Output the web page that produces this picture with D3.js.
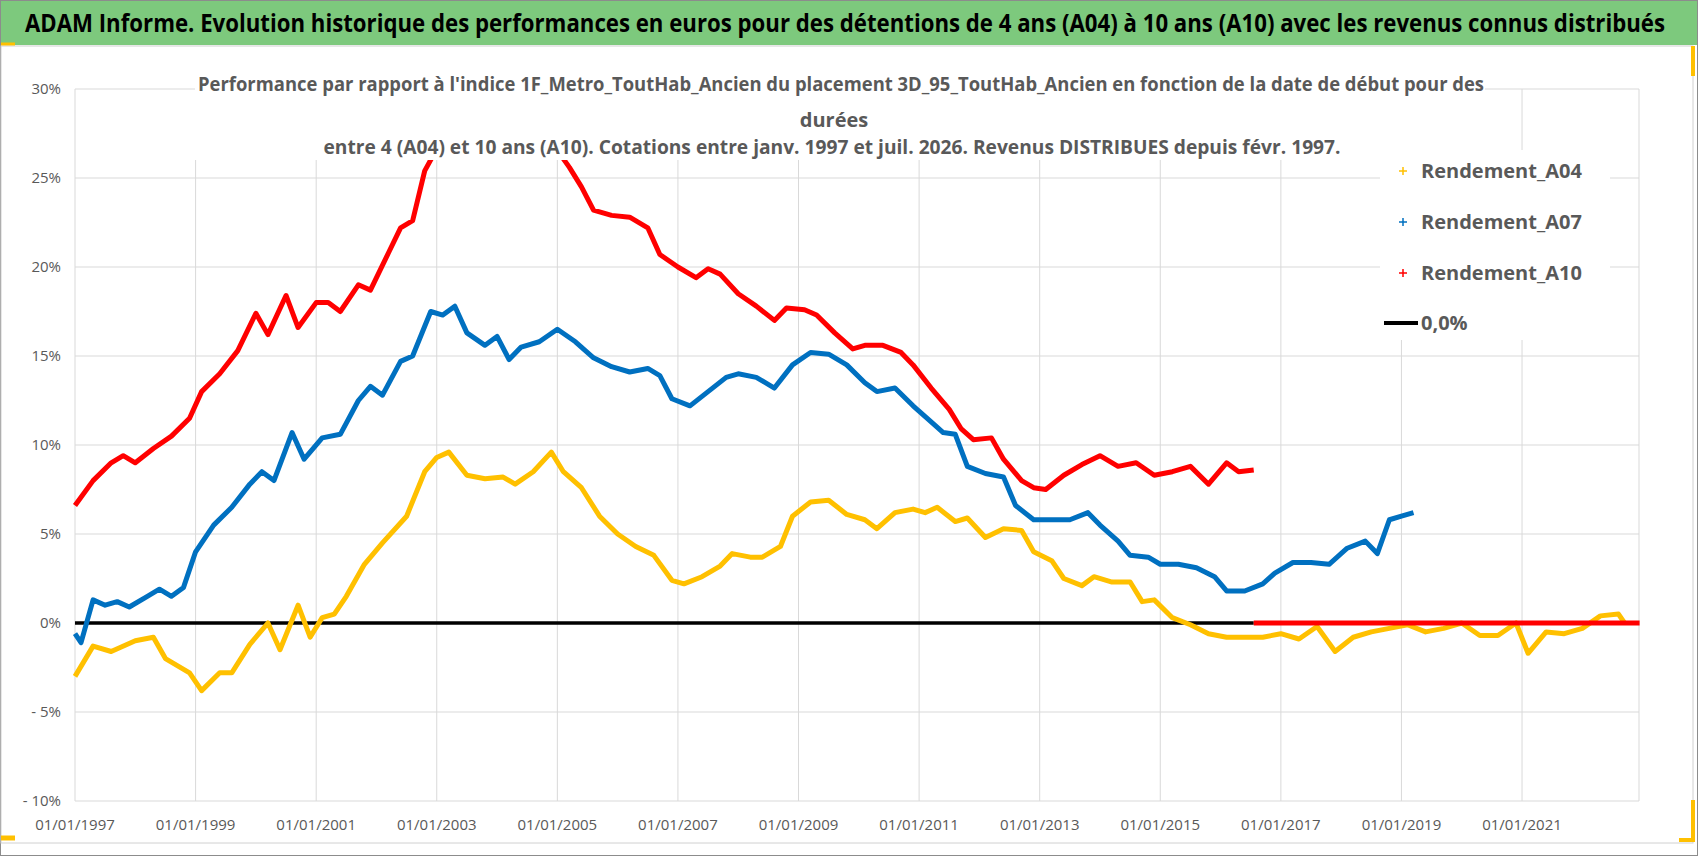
<!DOCTYPE html>
<html><head><meta charset="utf-8">
<script src="https://cdn.jsdelivr.net/npm/d3@7/dist/d3.min.js"></script>
<style>body{margin:0;background:#fff}svg{display:block}text{font-family:"Liberation Sans Narrow","Open Sans",sans-serif}</style>
</head><body><svg id="c" width="1698" height="856"></svg>
<script>
const titleText = "ADAM Informe. Evolution historique des performances en euros pour des détentions de 4 ans (A04) à 10 ans (A10) avec les revenus connus distribués";
const subtitleLines = ["Performance par rapport à l'indice 1F_Metro_ToutHab_Ancien  du placement 3D_95_ToutHab_Ancien en fonction de la date de début pour des", "durées", "entre 4 (A04) et 10 ans (A10). Cotations entre janv. 1997 et juil. 2026. Revenus DISTRIBUES depuis févr. 1997."];
const xTicks = [1997,1999,2001,2003,2005,2007,2009,2011,2013,2015,2017,2019,2021];
const yTicks = [-10,-5,0,5,10,15,20,25,30];
const seriesNames = ["Rendement_A04","Rendement_A07","Rendement_A10"];
const seriesColors = ["#FFC000","#0070C0","#FF0000"];
const a04 = [[1997.0,-3.0],[1997.3,-1.3],[1997.6,-1.6],[1998.0,-1.0],[1998.3,-0.8],[1998.5,-2.0],[1998.9,-2.8],[1999.1,-3.8],[1999.4,-2.8],[1999.6,-2.8],[1999.9,-1.2],[2000.2,0],[2000.4,-1.5],[2000.7,1.0],[2000.9,-0.8],[2001.1,0.3],[2001.3,0.5],[2001.5,1.5],[2001.8,3.3],[2002.1,4.5],[2002.5,6.0],[2002.8,8.5],[2003.0,9.3],[2003.2,9.6],[2003.5,8.3],[2003.8,8.1],[2004.1,8.2],[2004.3,7.8],[2004.6,8.5],[2004.9,9.6],[2005.1,8.5],[2005.4,7.6],[2005.7,6.0],[2006.0,5.0],[2006.3,4.3],[2006.6,3.8],[2006.9,2.4],[2007.1,2.2],[2007.4,2.6],[2007.7,3.2],[2007.9,3.9],[2008.2,3.7],[2008.4,3.7],[2008.7,4.3],[2008.9,6.0],[2009.2,6.8],[2009.5,6.9],[2009.8,6.1],[2010.1,5.8],[2010.3,5.3],[2010.6,6.2],[2010.9,6.4],[2011.1,6.2],[2011.3,6.5],[2011.6,5.7],[2011.8,5.9],[2012.1,4.8],[2012.4,5.3],[2012.7,5.2],[2012.9,4.0],[2013.2,3.5],[2013.4,2.5],[2013.7,2.1],[2013.9,2.6],[2014.2,2.3],[2014.5,2.3],[2014.7,1.2],[2014.9,1.3],[2015.2,0.3],[2015.5,-0.1],[2015.8,-0.6],[2016.1,-0.8],[2016.4,-0.8],[2016.7,-0.8],[2017.0,-0.6],[2017.3,-0.9],[2017.6,-0.2],[2017.9,-1.6],[2018.2,-0.8],[2018.5,-0.5],[2018.8,-0.3],[2019.1,-0.1],[2019.4,-0.5],[2019.7,-0.3],[2020.0,0],[2020.3,-0.7],[2020.6,-0.7],[2020.9,0],[2021.1,-1.7],[2021.4,-0.5],[2021.7,-0.6],[2022.0,-0.3],[2022.3,0.4],[2022.6,0.5],[2022.7,0]];
const a07 = [[1997.0,-0.6],[1997.1,-1.1],[1997.3,1.3],[1997.5,1.0],[1997.7,1.2],[1997.9,0.9],[1998.2,1.5],[1998.4,1.9],[1998.6,1.5],[1998.8,2.0],[1999.0,4.0],[1999.3,5.5],[1999.6,6.5],[1999.9,7.8],[2000.1,8.5],[2000.3,8.0],[2000.6,10.7],[2000.8,9.2],[2001.1,10.4],[2001.4,10.6],[2001.7,12.5],[2001.9,13.3],[2002.1,12.8],[2002.4,14.7],[2002.6,15.0],[2002.9,17.5],[2003.1,17.3],[2003.3,17.8],[2003.5,16.3],[2003.8,15.6],[2004.0,16.1],[2004.2,14.8],[2004.4,15.5],[2004.7,15.8],[2005.0,16.5],[2005.3,15.8],[2005.6,14.9],[2005.9,14.4],[2006.2,14.1],[2006.5,14.3],[2006.7,13.9],[2006.9,12.6],[2007.2,12.2],[2007.5,13.0],[2007.8,13.8],[2008.0,14.0],[2008.3,13.8],[2008.6,13.2],[2008.9,14.5],[2009.2,15.2],[2009.5,15.1],[2009.8,14.5],[2010.1,13.5],[2010.3,13.0],[2010.6,13.2],[2010.9,12.2],[2011.2,11.3],[2011.4,10.7],[2011.6,10.6],[2011.8,8.8],[2012.1,8.4],[2012.4,8.2],[2012.6,6.6],[2012.9,5.8],[2013.2,5.8],[2013.5,5.8],[2013.8,6.2],[2014.0,5.5],[2014.3,4.6],[2014.5,3.8],[2014.8,3.7],[2015.0,3.3],[2015.3,3.3],[2015.6,3.1],[2015.9,2.6],[2016.1,1.8],[2016.4,1.8],[2016.7,2.2],[2016.9,2.8],[2017.2,3.4],[2017.5,3.4],[2017.8,3.3],[2018.1,4.2],[2018.4,4.6],[2018.6,3.9],[2018.8,5.8],[2019.0,6.0],[2019.2,6.2]];
const a10 = [[1997.0,6.6],[1997.3,8.0],[1997.6,9.0],[1997.8,9.4],[1998.0,9.0],[1998.3,9.8],[1998.6,10.5],[1998.9,11.5],[1999.1,13.0],[1999.4,14.0],[1999.7,15.3],[2000.0,17.4],[2000.2,16.2],[2000.5,18.4],[2000.7,16.6],[2001.0,18.0],[2001.2,18.0],[2001.4,17.5],[2001.7,19.0],[2001.9,18.7],[2002.2,20.8],[2002.4,22.2],[2002.6,22.6],[2002.8,25.4],[2003.3,28.5],[2004.0,29.0],[2004.7,28.0],[2005.2,25.6],[2005.4,24.5],[2005.6,23.2],[2005.9,22.9],[2006.2,22.8],[2006.5,22.2],[2006.7,20.7],[2007.0,20.0],[2007.3,19.4],[2007.5,19.9],[2007.7,19.6],[2008.0,18.5],[2008.3,17.8],[2008.6,17.0],[2008.8,17.7],[2009.1,17.6],[2009.3,17.3],[2009.6,16.3],[2009.9,15.4],[2010.1,15.6],[2010.4,15.6],[2010.7,15.2],[2010.9,14.5],[2011.2,13.2],[2011.5,12.0],[2011.7,10.9],[2011.9,10.3],[2012.2,10.4],[2012.4,9.2],[2012.7,8.0],[2012.9,7.6],[2013.1,7.5],[2013.4,8.3],[2013.7,8.9],[2014.0,9.4],[2014.3,8.8],[2014.6,9.0],[2014.9,8.3],[2015.2,8.5],[2015.5,8.8],[2015.8,7.8],[2016.1,9.0],[2016.3,8.5],[2016.55,8.6]];
const a10zero = [[2016.55,0],[2022.95,0]];
const zeroLine = [[1997,0],[2016.55,0]];

const svg = d3.select("#c");
const x = d3.scaleLinear().domain([1997, 2022.94]).range([75, 1639]);
const y = d3.scaleLinear().domain([-10, 30]).range([801, 89]);

svg.append("rect").attr("x",0.5).attr("y",0.5).attr("width",1697).attr("height",855).attr("fill","#fff").attr("stroke","#8c8c8c");
svg.append("rect").attr("x",1).attr("y",1).attr("width",1696).attr("height",44).attr("fill","#7DC97D");
svg.append("text").attr("x",845).attr("y",32).attr("text-anchor","middle").attr("font-size",25).attr("font-weight","bold").attr("fill","#000")
  .attr("textLength",1640).attr("lengthAdjust","spacingAndGlyphs").text(titleText);
svg.append("rect").attr("x",1).attr("y",46).attr("width",1692).attr("height",797).attr("fill","#fff").attr("stroke","#d0d0d0");

const g = svg.append("g");
g.selectAll(".hg").data(yTicks).join("line").attr("x1",x.range()[0]).attr("x2",x.range()[1]).attr("y1",d=>y(d)).attr("y2",d=>y(d)).attr("stroke","#d9d9d9");
g.selectAll(".vg").data(xTicks).join("line").attr("x1",d=>x(d)).attr("x2",d=>x(d)).attr("y1",y(30)).attr("y2",y(-10)).attr("stroke","#d9d9d9");
g.append("line").attr("x1",x.range()[1]).attr("x2",x.range()[1]).attr("y1",y(30)).attr("y2",y(-10)).attr("stroke","#d9d9d9");

svg.selectAll(".yl").data(yTicks).join("text").attr("x",61).attr("y",d=>y(d)+5).attr("text-anchor","end").attr("font-size",15).attr("fill","#595959")
  .text(d=> d<0 ? "- "+Math.abs(d)+"%" : d+"%");
svg.selectAll(".xl").data(xTicks).join("text").attr("x",d=>x(d)).attr("y",830).attr("text-anchor","middle").attr("font-size",15).attr("fill","#595959")
  .text(d=>"01/01/"+d);

const line = d3.line().x(d=>x(d[0])).y(d=>y(d[1]));
svg.append("path").datum(zeroLine).attr("d",line).attr("fill","none").attr("stroke","#000").attr("stroke-width",3.5);
[a04,a07,a10].forEach((s,i)=>{
  svg.append("path").datum(s).attr("d",line).attr("fill","none").attr("stroke",seriesColors[i]).attr("stroke-width",5).attr("stroke-linejoin","round");
});
svg.append("path").datum(a10zero).attr("d",line).attr("fill","none").attr("stroke","#FF0000").attr("stroke-width",5);

svg.append("rect").attr("x",195).attr("y",68).attr("width",1290).attr("height",92).attr("fill","#fff");
const sub = svg.append("g").attr("font-weight","bold").attr("fill","#595959").attr("font-size",20);
sub.append("text").attr("x",841).attr("y",91).attr("text-anchor","middle").attr("textLength",1286).attr("lengthAdjust","spacingAndGlyphs").text(subtitleLines[0]);
sub.append("text").attr("x",834).attr("y",127).attr("text-anchor","middle").text(subtitleLines[1]);
sub.append("text").attr("x",832).attr("y",154).attr("text-anchor","middle").attr("textLength",1017).attr("lengthAdjust","spacingAndGlyphs").text(subtitleLines[2]);

svg.append("rect").attr("x",1380).attr("y",150).attr("width",230).attr("height",190).attr("fill","#fff");
const lg = svg.append("g");
const legY = [171,222,273];
seriesNames.forEach((n,i)=>{
  lg.append("path").attr("d",`M${1403-4},${legY[i]}h8M1403,${legY[i]-4}v8`).attr("stroke",seriesColors[i]).attr("stroke-width",1.5);
  lg.append("text").attr("x",1421).attr("y",legY[i]+7).attr("font-size",20).attr("font-weight","bold").attr("fill","#595959").text(n);
});
lg.append("line").attr("x1",1384).attr("x2",1418).attr("y1",323).attr("y2",323).attr("stroke","#000").attr("stroke-width",4);
lg.append("text").attr("x",1421).attr("y",330).attr("font-size",20).attr("font-weight","bold").attr("fill","#595959").text("0,0%");

svg.append("path").attr("d","M1,838h14").attr("stroke","#FFC000").attr("stroke-width",5);
svg.append("path").attr("d","M1,44h14").attr("stroke","#FFC000").attr("stroke-width",3);
svg.append("path").attr("d","M1693,800v40h-14").attr("fill","none").attr("stroke","#FFC000").attr("stroke-width",4);
svg.append("path").attr("d","M1693,46v30").attr("fill","none").attr("stroke","#FFC000").attr("stroke-width",4);
</script></body></html>
